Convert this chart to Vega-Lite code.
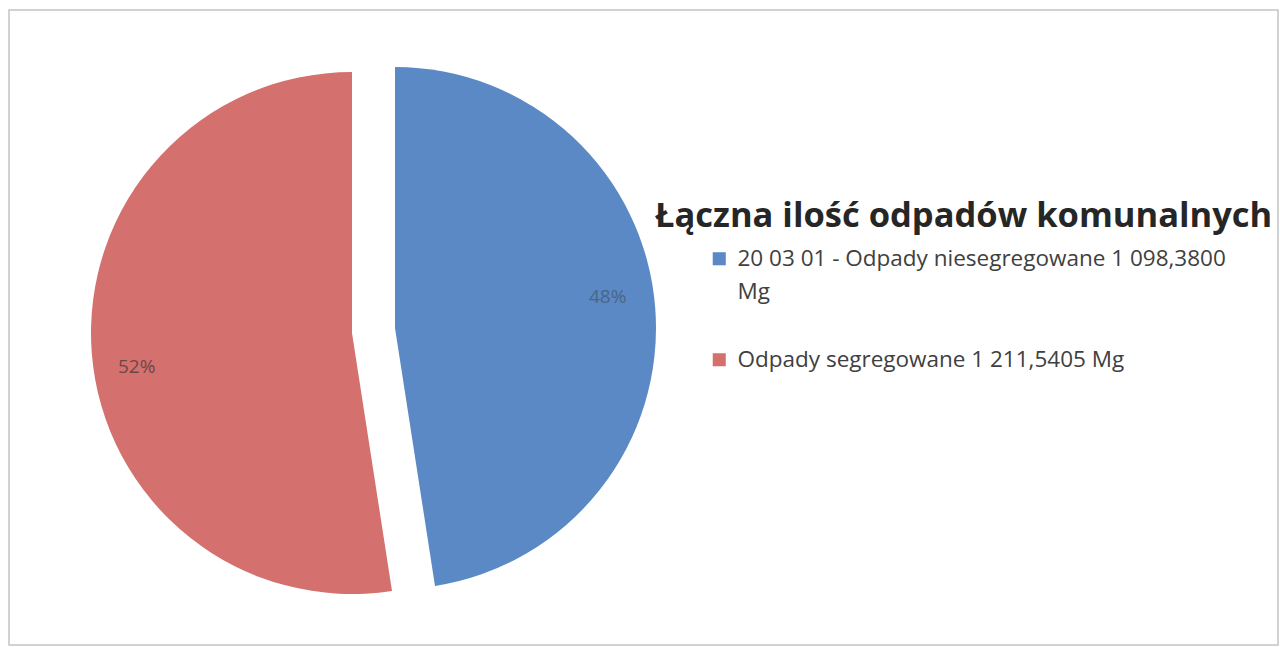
{
  "$schema": "https://vega.github.io/schema/vega-lite/v6.json",
  "width": 1280,
  "height": 647,
  "autosize": {"type": "fit", "contains": "padding"},
  "padding": {"left": 9, "top": 10, "right": 2, "bottom": 2},
  "background": "white",
  "view": {"stroke": "#c4c4c4", "strokeWidth": 1.5},
  "config": {
    "view": {"stroke": "#c4c4c4", "strokeWidth": 1.5},
    "style": {"guide-label": {"lineHeight": 33}}
  },
  "data": {
    "values": [
      {"kategoria": "20 03 01 - Odpady niesegregowane 1 098,3800 Mg", "wartosc": 1098.38, "procent": "48%"},
      {"kategoria": "Odpady segregowane 1 211,5405 Mg", "wartosc": 1211.5405, "procent": "52%"}
    ]
  },
  "encoding": {
    "theta": {"field": "wartosc", "type": "quantitative", "stack": true},
    "color": {
      "field": "kategoria",
      "type": "nominal",
      "scale": {
        "domain": ["20 03 01 - Odpady niesegregowane 1 098,3800 Mg", "Odpady segregowane 1 211,5405 Mg"],
        "range": ["#5a89c5", "#d4716f"]
      },
      "legend": {
        "title": "Łączna ilość odpadów komunalnych",
        "orient": "none",
        "legendX": 646,
        "legendY": 190,
        "titleFont": "Open Sans",
        "titleFontSize": 34.5,
        "titleFontWeight": "bold",
        "titleColor": "#262626",
        "titlePadding": 13,
        "titleLimit": 0,
        "labelFont": "Open Sans",
        "labelFontSize": 22.5,
        "labelColor": "#404040",
        "labelLimit": 0,
        "labelOffset": 7,
        "symbolType": "square",
        "symbolSize": 170,
        "symbolStrokeWidth": 0,
        "symbolOffset": 53,
        "rowPadding": 45,
        "labelExpr": "indexof(datum.label, '20 03 01') == 0 ? ['20 03 01 - Odpady niesegregowane 1 098,3800', 'Mg'] : datum.label",
        "encode": {"labels": {"enter": {"lineHeight": {"value": 33}}, "update": {"lineHeight": {"value": 33}}}}
      }
    }
  },
  "layer": [
    {
      "mark": {"type": "arc", "outerRadius": 261, "xOffset": -248.5, "yOffset": 0.5, "stroke": null},
      "encoding": {
        "opacity": {"condition": {"test": "indexof(datum.kategoria, '20 03 01') == 0", "value": 1}, "value": 0}
      }
    },
    {
      "mark": {"type": "arc", "outerRadius": 261, "xOffset": -291.5, "yOffset": 5.5, "stroke": null},
      "encoding": {
        "opacity": {"condition": {"test": "indexof(datum.kategoria, 'Odpady segregowane') == 0", "value": 1}, "value": 0}
      }
    },
    {
      "mark": {"type": "text", "radius": 215, "xOffset": -248.5, "yOffset": 0.5, "font": "Open Sans", "fontSize": 19, "thetaOffset": -0.07},
      "encoding": {
        "text": {"field": "procent"},
        "color": {"value": "#4b6585"},
        "opacity": {"condition": {"test": "indexof(datum.kategoria, '20 03 01') == 0", "value": 1}, "value": 0}
      }
    },
    {
      "mark": {"type": "text", "radius": 218, "xOffset": -291.5, "yOffset": 5.5, "font": "Open Sans", "fontSize": 19, "thetaOffset": -0.08},
      "encoding": {
        "text": {"field": "procent"},
        "color": {"value": "#6a4848"},
        "opacity": {"condition": {"test": "indexof(datum.kategoria, 'Odpady segregowane') == 0", "value": 1}, "value": 0}
      }
    }
  ]
}
